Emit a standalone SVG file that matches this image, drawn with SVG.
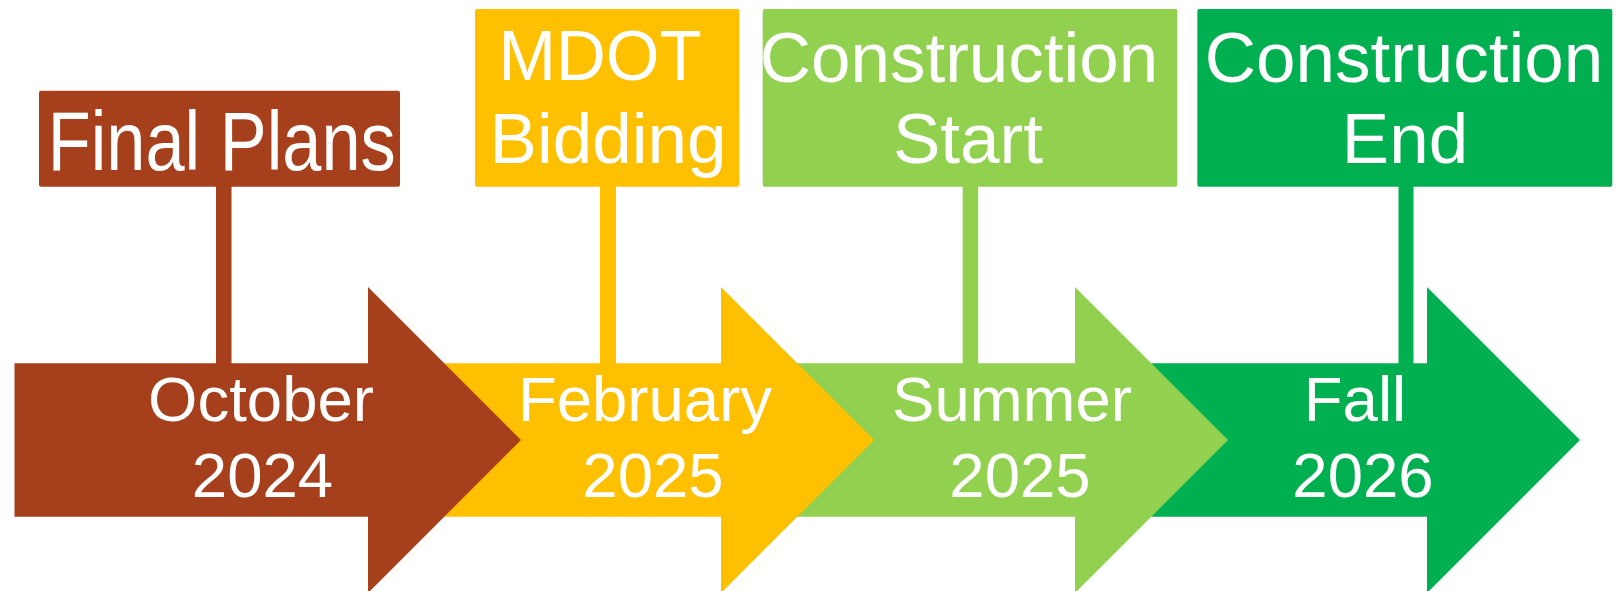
<svg xmlns="http://www.w3.org/2000/svg" width="1616" height="591" viewBox="0 0 1616 591">
<style>
  .t { font-family: "Liberation Sans", Arial, sans-serif; fill: #FFFFFF; text-anchor: middle; }
  .big { font-size: 63.5px; }
  .lab { font-size: 71px; }
  .brown { fill: #A6401C; }
  .gold { fill: #FFC000; }
  .lgreen { fill: #92D050; }
  .green { fill: #00B050; }
</style>
<rect width="1616" height="591" fill="#FFFFFF"/>
<g id="connectors">
  <rect class="brown" x="216" y="185" width="15.5" height="180"/>
  <rect class="gold" x="600" y="185" width="16" height="180"/>
  <rect class="lgreen" x="962.7" y="185" width="15.5" height="180"/>
  <rect class="green" x="1398.5" y="185" width="15" height="180"/>
</g>
<g id="arrow-fall-2026">
  <polygon class="green" points="1075,363.3 1427,363.3 1427,287 1580,440 1427,593 1427,516.7 1075,516.7"/>
  <text class="t big" x="1355" y="421">Fall</text>
  <text class="t big" x="1363" y="496.5">2026</text>
</g>
<g id="arrow-summer-2025">
  <polygon class="lgreen" points="721,363.3 1075,363.3 1075,287 1228,440 1075,593 1075,516.7 721,516.7"/>
  <text class="t big" x="1012" y="421">Summer</text>
  <text class="t big" x="1020" y="496.5">2025</text>
</g>
<g id="arrow-february-2025">
  <polygon class="gold" points="368,363.3 721,363.3 721,287 874,440 721,593 721,516.7 368,516.7"/>
  <text class="t big" x="645" y="421">February</text>
  <text class="t big" x="653" y="496.5">2025</text>
</g>
<g id="arrow-october-2024">
  <polygon class="brown" points="14.5,363.3 368,363.3 368,287 521,440 368,593 368,516.7 14.5,516.7"/>
  <text class="t big" x="261" y="421">October</text>
  <text class="t big" x="262.5" y="496.5">2024</text>
</g>
<g id="label-final-plans">
  <rect class="brown" x="39" y="90.7" width="361" height="96" rx="2"/>
  <text class="t" style="font-size:83px" x="221.7" y="170" textLength="348" lengthAdjust="spacingAndGlyphs">Final Plans</text>
</g>
<g id="label-mdot-bidding">
  <rect class="gold" x="475" y="9" width="264.3" height="177.7" rx="2"/>
  <text class="t lab" x="600" y="80" textLength="203" lengthAdjust="spacingAndGlyphs">MDOT</text>
  <text class="t lab" x="608" y="163.3">Bidding</text>
</g>
<g id="label-construction-start">
  <rect class="lgreen" x="762.7" y="9" width="414.6" height="177.7" rx="2"/>
  <text class="t lab" x="959" y="81.7">Construction</text>
  <text class="t lab" x="968" y="163.3">Start</text>
</g>
<g id="label-construction-end">
  <rect class="green" x="1197.3" y="9" width="415" height="177.7" rx="2"/>
  <text class="t lab" x="1404" y="81.7">Construction</text>
  <text class="t lab" x="1405" y="163.3">End</text>
</g>
</svg>
